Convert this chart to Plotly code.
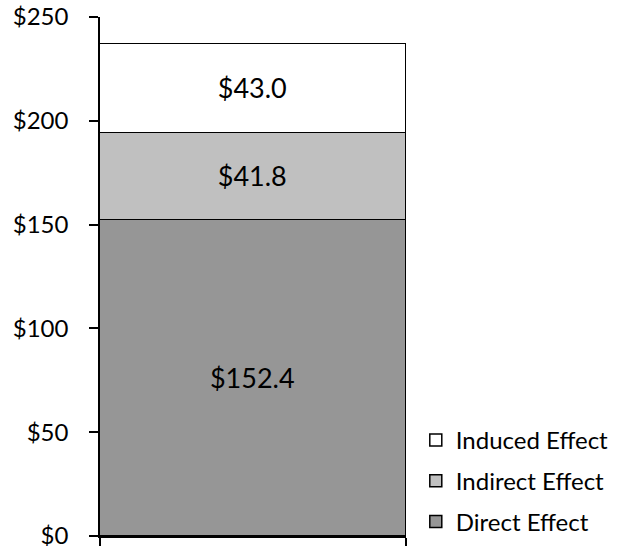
import plotly.graph_objects as go

categories = ["Total"]
series_names = ["Direct Effect", "Indirect Effect", "Induced Effect"]
direct = [152.4]
indirect = [41.8]
induced = [43.0]
y_ticks = [0, 50, 100, 150, 200, 250]
y_tick_labels = ["$0", "$50", "$100", "$150", "$200", "$250"]

colors = ["#969696", "#c0c0c0", "#ffffff"]
ranks = [3, 2, 1]
FONT = "Lato"

fig = go.Figure()
for name, vals, col, rk in zip(series_names, [direct, indirect, induced], colors, ranks):
    fig.add_trace(go.Bar(
        x=[0.5], y=vals, width=1, name=name, legendgroup=name, legendrank=rk,
        marker=dict(color=col, line=dict(color="black", width=1.5)),
        texttemplate="$%{y:.1f}", textposition="inside", insidetextanchor="middle",
        textfont=dict(family=FONT, size=27, color="black"),
        hoverinfo="skip",
    ))

fig.update_layout(
    barmode="stack", bargap=0,
    width=623, height=546,
    margin=dict(l=100, r=217, t=17, b=10, autoexpand=False),
    paper_bgcolor="white", plot_bgcolor="white",
    font=dict(family=FONT, color="black"),
    showlegend=True,
    legend=dict(x=1.032, xanchor="left", y=-0.0154, yanchor="bottom",
                traceorder="grouped", tracegroupgap=6.5,
                font=dict(family=FONT, size=24, color="black"),
                itemwidth=30, bgcolor="rgba(0,0,0,0)"),
    xaxis=dict(range=[0, 1], tickvals=[0, 1], showticklabels=False,
               ticks="outside", ticklen=10, tickwidth=1.5, tickcolor="black",
               showline=True, linecolor="black", linewidth=1.5,
               showgrid=False, zeroline=False, fixedrange=True),
    yaxis=dict(range=[0, 250], tickvals=y_ticks, ticktext=y_tick_labels,
               ticks="outside", ticklen=9, tickwidth=1.5, tickcolor="black",
               showline=True, linecolor="black", linewidth=1.5,
               showgrid=False, zeroline=False, ticklabeloverflow="allow",
               tickfont=dict(family=FONT, size=24, color="black"),
               ticklabelstandoff=16),
)

fig.write_html("out.html")
